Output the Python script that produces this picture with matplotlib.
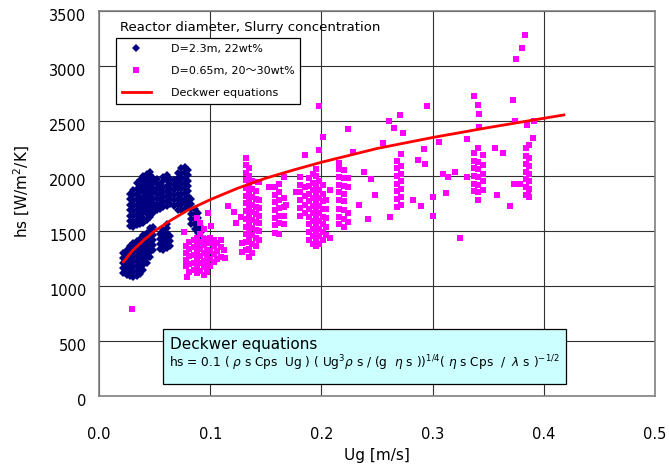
import matplotlib
matplotlib.use('Agg')
import matplotlib.pyplot as plt
import matplotlib.transforms as mtrans
from matplotlib.patches import Rectangle

plt.rcParams['font.family'] = ['DejaVu Sans', 'Noto Sans CJK JP']

# D=2.3m, 22wt%  -> (Ug [m/s], [hs values W/m2/K]) read column by column
blue_cols = [
    # upper blob
    (0.028, [1545, 1590, 1640, 1690, 1740, 1790, 1840]),
    (0.031, [1540, 1585, 1635, 1680, 1730, 1775, 1825, 1870]),
    (0.034, [1550, 1600, 1645, 1695, 1740, 1790, 1835, 1885, 1935]),
    (0.037, [1560, 1605, 1655, 1700, 1750, 1800, 1850, 1895, 1940, 1965]),
    (0.040, [1575, 1620, 1670, 1715, 1765, 1810, 1860, 1905, 1955, 2000]),
    (0.043, [1600, 1650, 1695, 1745, 1790, 1840, 1885, 1935, 1985, 2020]),
    (0.046, [1630, 1680, 1725, 1775, 1820, 1870, 1915, 1965, 2010, 2035]),
    (0.049, [1660, 1705, 1755, 1800, 1850, 1895, 1945, 1985]),
    (0.052, [1690, 1740, 1790, 1835, 1880, 1930, 1975]),
    (0.055, [1700, 1745, 1790, 1840, 1885, 1930]),
    (0.058, [1720, 1765, 1810, 1855, 1900, 1950, 1990]),
    (0.061, [1730, 1775, 1820, 1865, 1910, 1960, 2005]),
    (0.064, [1745, 1790, 1835, 1880, 1925, 1970]),
    (0.067, [1725, 1780, 1825, 1870, 1915, 1960]),
    (0.071, [1690, 1745, 1795, 1840, 1890, 1935, 1985, 2030]),
    (0.074, [1690, 1735, 1785, 1830, 1880, 1925, 1975, 2020, 2070]),
    (0.077, [1700, 1750, 1795, 1845, 1890, 1940, 1985, 2035, 2085]),
    (0.080, [1720, 1765, 1815, 1860, 1910, 1955, 2005, 2050]),
    # tail going down to the right
    (0.083, [1560, 1605, 1650, 1700, 1745, 1790]),
    (0.086, [1520, 1565, 1610, 1655, 1700]),
    (0.089, [1440, 1485, 1530, 1575, 1620, 1665]),
    (0.092, [1400, 1445, 1490, 1535]),
    (0.095, [1390, 1430]),
    # lower band
    (0.022, [1120, 1165, 1210, 1255, 1300]),
    (0.025, [1100, 1145, 1190, 1235, 1280, 1325]),
    (0.028, [1090, 1135, 1180, 1225, 1270, 1315, 1360]),
    (0.031, [1085, 1130, 1175, 1220, 1265, 1310, 1355, 1390]),
    (0.034, [1090, 1135, 1180, 1225, 1270, 1315, 1360, 1405]),
    (0.037, [1110, 1155, 1200, 1245, 1290, 1335, 1380, 1425]),
    (0.040, [1150, 1195, 1240, 1285, 1330, 1375, 1420, 1465]),
    (0.043, [1210, 1255, 1300, 1345, 1390, 1435, 1480]),
    (0.046, [1265, 1310, 1355, 1400, 1445, 1490, 1525]),
    (0.049, [1330, 1375, 1420, 1465, 1510, 1540]),
    (0.055, [1335, 1380, 1425, 1470]),
    (0.058, [1330, 1375, 1420, 1465, 1510]),
    (0.061, [1345, 1390, 1435, 1480, 1525, 1565]),
    (0.064, [1360, 1405, 1450]),
]

# D=0.65m, 20~30wt%  -> dense columns
magenta_cols = [
    (0.078, [1180, 1240, 1300, 1360]),
    (0.081, [1130, 1200, 1270, 1340, 1400]),
    (0.085, [1150, 1210, 1280, 1350, 1420]),
    (0.088, [1120, 1190, 1250, 1310, 1380, 1440, 1620]),
    (0.091, [1140, 1210, 1270, 1340, 1400, 1470, 1570]),
    (0.094, [1100, 1170, 1230, 1300, 1370, 1430, 1520]),
    (0.097, [1130, 1200, 1260, 1330, 1390]),
    (0.100, [1180, 1250, 1320, 1390, 1440]),
    (0.103, [1220, 1290, 1360, 1420]),
    (0.106, [1250, 1320, 1390]),
    (0.110, [1260, 1350, 1420]),
    (0.132, [1330, 1400, 1470, 1540, 1610, 1680, 1750, 1820, 1890, 1960, 2030, 2100, 2160]),
    (0.135, [1260, 1340, 1420, 1500, 1580, 1650, 1720, 1790, 1860, 1930, 2000, 2070]),
    (0.138, [1300, 1380, 1460, 1530, 1600, 1670, 1740, 1810, 1880, 1950]),
    (0.141, [1360, 1440, 1510, 1580, 1650, 1720, 1790, 1860]),
    (0.144, [1420, 1500, 1570, 1640, 1710, 1780, 1945]),
    (0.158, [1480, 1550, 1620, 1690, 1760, 1830, 1900]),
    (0.162, [1470, 1570, 1640, 1710, 1780, 1850, 1930]),
    (0.166, [1560, 1640, 1720, 1800, 1990]),
    (0.181, [1640, 1710, 1780, 1850, 1920, 1990]),
    (0.185, [1660, 1740, 1820, 1900, 2190]),
    (0.189, [1420, 1490, 1560, 1630, 1700, 1770, 1840, 1910, 1980]),
    (0.192, [1380, 1450, 1520, 1590, 1660, 1730, 1800, 1870, 1940, 2020]),
    (0.195, [1360, 1430, 1500, 1570, 1640, 1710, 1780, 1850, 1920, 2000, 2060]),
    (0.198, [1380, 1450, 1520, 1590, 1660, 1730, 1800, 1870, 1950, 2236, 2636]),
    (0.201, [1420, 1490, 1560, 1630, 1700, 1770, 1840, 1920, 2355]),
    (0.204, [1460, 1540, 1620, 1700, 1780]),
    (0.216, [1560, 1630, 1700, 1780, 1850, 1920, 1990, 2060, 2120]),
    (0.220, [1540, 1610, 1690, 1770, 1840, 1910, 1980, 2050]),
    (0.224, [1580, 1660, 1900, 1980, 2427]),
    (0.268, [1720, 1790, 1860, 1930, 2000, 2070, 2140]),
    (0.272, [1740, 1810, 1880, 1950, 2020, 2090, 2200]),
    (0.337, [1860, 1930, 2000, 2070, 2140, 2210, 2727]),
    (0.341, [1780, 1850, 1920, 1990, 2060, 2130, 2250, 2645]),
    (0.345, [1870, 1950, 2020, 2100, 2190]),
    (0.384, [1830, 1900, 1970, 2040, 2110, 2180, 2250]),
    (0.387, [1810, 1880, 1950, 2020, 2090, 2160, 2280]),
]

# D=0.65m, 20~30wt%  -> scattered single points
magenta_ug = [0.030, 0.076, 0.079, 0.098, 0.101, 0.112, 0.113, 0.116,
              0.121, 0.123, 0.128, 0.129, 0.129, 0.143, 0.153, 0.168,
              0.177, 0.208, 0.208, 0.228, 0.234, 0.238, 0.242, 0.245,
              0.248, 0.255, 0.261, 0.262, 0.265, 0.271, 0.273, 0.282,
              0.287, 0.290, 0.293, 0.292, 0.295, 0.300, 0.300, 0.306,
              0.309, 0.314, 0.312, 0.320, 0.325, 0.331, 0.331, 0.342,
              0.342, 0.356, 0.358, 0.363, 0.370, 0.372, 0.373, 0.374,
              0.375, 0.379, 0.380, 0.383, 0.385, 0.386, 0.390, 0.391]
magenta_hs = [791, 1490, 1082, 1664, 1545, 1330, 1254, 1727,
              1673, 1573, 1627, 1390, 1310, 1945, 1900, 1736,
              1855, 1436, 1873, 2218, 1736, 2036, 1609, 1970,
              1827, 2300, 2500, 1627, 2436, 2555, 2390, 1782,
              2145, 1727, 2109, 2245, 2636, 1809, 1636, 2309,
              2018, 1990, 1845, 2036, 1436, 2336, 1990, 2564,
              2445, 2255, 1827, 2209, 1727, 2691, 1927, 2500,
              3064, 1927, 3164, 3282, 2464, 1827, 2345, 2500]

# Deckwer equation curve
deckwer_ug = [0.022, 0.03, 0.04, 0.05, 0.065, 0.08, 0.1, 0.125, 0.15, 0.175,
              0.2, 0.25, 0.3, 0.35, 0.418]
deckwer_hs = [1220, 1320, 1415, 1500, 1600, 1690, 1785, 1890, 1980, 2055,
              2125, 2250, 2350, 2440, 2555]

bx = [u for u, hs in blue_cols for _ in hs]
by = [h for _, hs in blue_cols for h in hs]
mx = [u for u, hs in magenta_cols for _ in hs] + magenta_ug
my = [h for _, hs in magenta_cols for h in hs] + magenta_hs

fig = plt.figure(figsize=(6.69, 4.74), dpi=100)
ax = fig.add_axes([99 / 669, 78 / 474, 556 / 669, 385 / 474])

ax.plot(bx, by, linestyle='', marker='D', markersize=3.6, color='#000080',
        markeredgewidth=0, label='D=2.3m, 22wt%', zorder=3)
ax.plot(mx, my, linestyle='', marker='s', markersize=4.6, color='#FF00FF',
        markeredgewidth=0, label='D=0.65m, 20\u301c30wt%', zorder=4)
ax.plot(deckwer_ug, deckwer_hs, color='#FF0000', linewidth=2.0,
        label='Deckwer equations', zorder=5)

ax.set_xlim(0, 0.5)
ax.set_ylim(0, 3500)
ax.set_xticks([0.0, 0.1, 0.2, 0.3, 0.4, 0.5])
ax.set_xticklabels(['0.0', '0.1', '0.2', '0.3', '0.4', '0.5'])
ax.set_yticks(range(0, 3501, 500))
ax.grid(True, color='#303030', linewidth=0.8, zorder=1)
ax.set_axisbelow(True)
for s in ax.spines.values():
    s.set_color('#808080')
    s.set_linewidth(1.2)
ax.tick_params(length=0, labelsize=10.5)
ax.tick_params(axis='x', pad=22)
ax.tick_params(axis='y', pad=9)
# excel style: y labels sit a little below the grid line
off = mtrans.ScaledTranslation(0, -3 / 72, fig.dpi_scale_trans)
for lbl in ax.get_yticklabels():
    lbl.set_transform(lbl.get_transform() + off)

ax.set_xlabel('Ug [m/s]', fontsize=11)
ax.set_ylabel('hs [W/m$^2$/K]', fontsize=11)
ax.xaxis.set_label_coords(0.5, -0.135)
ax.yaxis.set_label_coords(-0.12, 0.53)

# legend (title text is drawn separately, above the box)
leg = ax.legend(loc='upper left', bbox_to_anchor=(0.031, 0.930),
                borderaxespad=0, fancybox=False, edgecolor='black',
                fontsize=8, labelspacing=1.1, handlelength=2.6,
                handletextpad=1.8, borderpad=0.5, framealpha=1)
leg.get_frame().set_linewidth(0.9)
leg.set_zorder(6)
ax.text(0.038, 0.958, 'Reactor diameter, Slurry concentration',
        transform=ax.transAxes, fontsize=9.5, va='center', ha='left', zorder=6)

# equation box
ax.add_patch(Rectangle((0.115, 0.031), 0.725, 0.143, transform=ax.transAxes,
                       facecolor='#CCFFFF', edgecolor='black', linewidth=0.9,
                       zorder=6))
ax.text(0.128, 0.133, 'Deckwer equations', transform=ax.transAxes,
        fontsize=11, va='center', ha='left', zorder=7)
ax.text(0.126, 0.085,
        r'hs = 0.1 ( $\rho$ s Cps  Ug ) ( Ug$^3\rho$ s / (g  $\eta$ s ))$^{1/4}$'
        r'( $\eta$ s Cps  /  $\lambda$ s )$^{-1/2}$',
        transform=ax.transAxes, fontsize=8.7, va='center', ha='left', zorder=7)

fig.savefig('out.png', dpi=100)
